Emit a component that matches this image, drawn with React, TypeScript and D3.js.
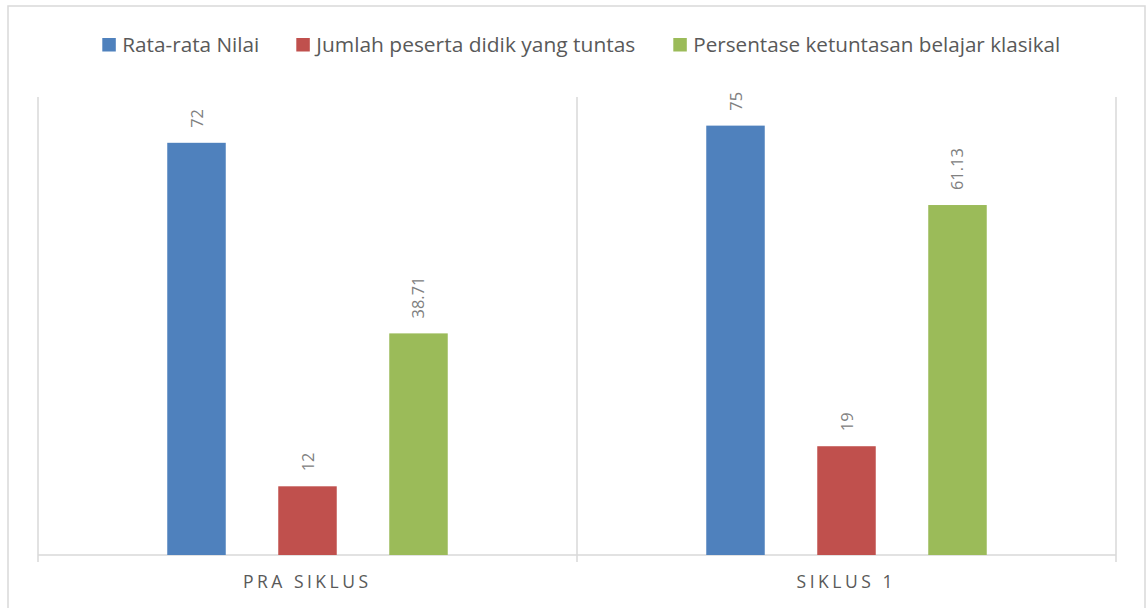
import React, { useEffect, useRef } from "react";
import * as d3 from "d3";

const categories = ["PRA SIKLUS", "SIKLUS 1"];
const seriesNames = [
  "Rata-rata Nilai",
  "Jumlah peserta didik yang tuntas",
  "Persentase ketuntasan belajar klasikal",
];
const rataRata = [72, 75];
const jumlahTuntas = [12, 19];
const persentase = [38.71, 61.13];
const seriesValues = [rataRata, jumlahTuntas, persentase];
const colors = ["#4f81bd", "#c0504d", "#9bbb59"];

const W = 1146;
const H = 608;
const FONT = "'Open Sans', 'Noto Sans', sans-serif";
const legendTextWidths = [137, 319, 367];
const categoryTextWidths = [125, 96];

export default function App() {
  const ref = useRef<SVGSVGElement | null>(null);

  useEffect(() => {
    const svg = d3.select(ref.current);
    svg.selectAll("*").remove();

    const left = 38, right = 1116, top = 97, bottom = 555;
    const grid = "#d9d9d9";

    svg.append("rect").attr("width", W).attr("height", H).attr("fill", "#fff");
    svg.append("rect")
      .attr("x", 8).attr("y", 6).attr("width", 1137).attr("height", 700)
      .attr("fill", "none").attr("stroke", grid).attr("stroke-width", 1.5);

    const y = d3.scaleLinear().domain([0, 80]).range([bottom, top]);
    const x0 = d3.scaleBand<string>().domain(categories).range([left, right]).padding(0);
    const x1 = d3.scaleBand<string>()
      .domain(seriesNames)
      .range([0, x0.bandwidth()])
      .paddingInner(0.473)
      .paddingOuter(1.1645);

    // vertical category boundaries
    const bounds = [...categories.map((c) => x0(c) as number), right];
    svg.append("g").selectAll("line").data(bounds).join("line")
      .attr("x1", (d) => d).attr("x2", (d) => d)
      .attr("y1", y(80)).attr("y2", bottom + 7)
      .attr("stroke", grid).attr("stroke-width", 1.5);

    // baseline
    svg.append("line")
      .attr("x1", left).attr("x2", right)
      .attr("y1", y(0)).attr("y2", y(0))
      .attr("stroke", grid).attr("stroke-width", 1.5);

    // bars
    const g = svg.append("g");
    seriesNames.forEach((s, si) => {
      categories.forEach((c, ci) => {
        const v = seriesValues[si][ci];
        const bx = (x0(c) as number) + (x1(s) as number);
        g.append("rect")
          .attr("x", bx).attr("y", y(v))
          .attr("width", x1.bandwidth())
          .attr("height", y(0) - y(v))
          .attr("fill", colors[si]);
        const cx = bx + x1.bandwidth() / 2;
        g.append("text")
          .attr("transform", `translate(${cx + 6},${y(v) - 15}) rotate(-90)`)
          .attr("font-family", FONT)
          .attr("font-size", 16.4)
          .attr("fill", "#808080")
          .attr("text-anchor", "start")
          .text(String(v));
      });
    });

    // category labels
    categories.forEach((c, ci) => {
      svg.append("text")
        .attr("x", (x0(c) as number) + x0.bandwidth() / 2 - 2)
        .attr("y", 588)
        .attr("text-anchor", "middle")
        .attr("font-family", FONT)
        .attr("font-size", 17.5)
        .attr("fill", "#595959")
        .attr("textLength", categoryTextWidths[ci])
        .attr("lengthAdjust", "spacing")
        .text(c);
    });

    // legend
    let lx = 102.3;
    const gaps = [37, 38];
    seriesNames.forEach((s, si) => {
      svg.append("rect")
        .attr("x", lx).attr("y", 38)
        .attr("width", 13.5).attr("height", 13.5)
        .attr("fill", colors[si]);
      svg.append("text")
        .attr("x", lx + 20).attr("y", 51.7)
        .attr("font-family", FONT)
        .attr("font-size", 19.5)
        .attr("fill", "#595959")
        .attr("textLength", legendTextWidths[si])
        .attr("lengthAdjust", "spacingAndGlyphs")
        .text(s);
      lx += 20 + legendTextWidths[si] + (gaps[si] ?? 0);
    });
  }, []);

  return (
    <svg
      ref={ref}
      width={W}
      height={H}
      style={{ position: "absolute", left: 0, top: 0, display: "block" }}
    />
  );
}
